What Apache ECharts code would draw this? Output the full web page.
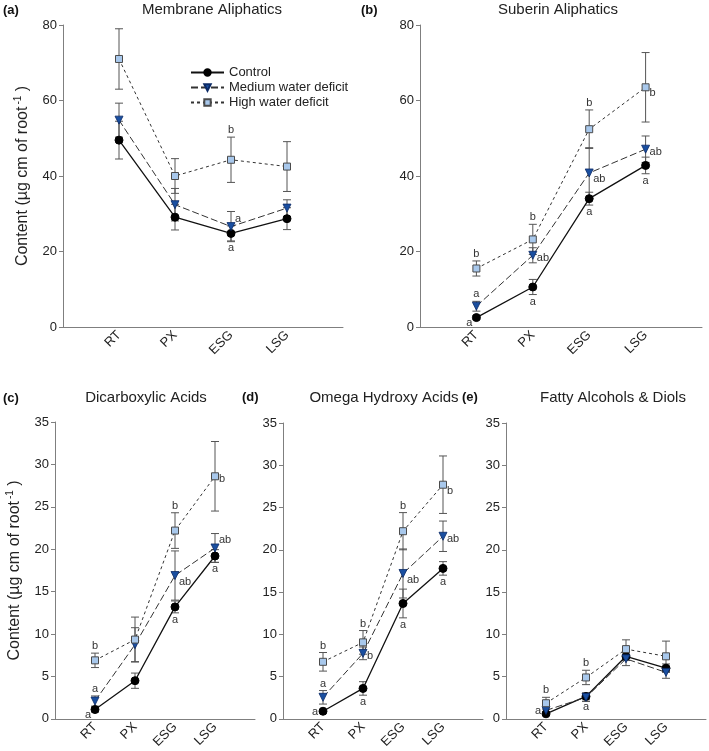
<!DOCTYPE html>
<html>
<head>
<meta charset="utf-8">
<script src="https://cdn.jsdelivr.net/npm/echarts@6/dist/echarts.min.js"></script>
<style>
  html, body { margin: 0; padding: 0; background: #fff; }
  #chart { width: 709px; height: 751px; }
</style>
</head>
<body>
<div id="chart"></div>
<script>
// x slots: empty slot at each end so the 4 groups sit one step in from the axis ends
const xSlots = ['', 'RT', 'PX', 'ESG', 'LSG', ''];
const seriesNames = ['Control', 'Medium water deficit', 'High water deficit'];

// (a) Membrane Aliphatics
const memCtl = [49.5, 29.1, 24.8, 28.7];
const memCtlErr = [5.0, 3.4, 2.0, 2.9];
const memMed = [54.8, 32.4, 26.6, 31.5];
const memMedErr = [4.5, 4.3, 4.0, 2.2];
const memHigh = [71.0, 40.0, 44.3, 42.5];
const memHighErr = [8.0, 4.6, 6.0, 6.6];
const memCtlLet = ['', '', 'a', ''];
const memMedLet = ['', '', 'a', ''];
const memHighLet = ['', '', 'b', ''];

// (b) Suberin Aliphatics
const subCtl = [2.5, 10.6, 34.0, 42.8];
const subCtlErr = [0.5, 2.0, 1.7, 2.2];
const subMed = [5.5, 19.0, 40.8, 47.1];
const subMedErr = [1.3, 2.0, 6.7, 3.5];
const subHigh = [15.5, 23.2, 52.4, 63.5];
const subHighErr = [2.0, 4.0, 5.1, 9.2];
const subCtlLet = ['a', 'a', 'a', 'a'];
const subMedLet = ['a', 'ab', 'ab', 'ab'];
const subHighLet = ['b', 'b', 'b', 'b'];

// (c) Dicarboxylic Acids
const dicCtl = [1.1, 4.5, 13.2, 19.2];
const dicCtlErr = [0.3, 0.9, 0.7, 0.75];
const dicMed = [2.1, 8.75, 16.9, 20.15];
const dicMedErr = [0.6, 2.0, 2.9, 1.7];
const dicHigh = [6.9, 9.35, 22.2, 28.6];
const dicHighErr = [0.85, 2.65, 2.1, 4.1];
const dicCtlLet = ['a', '', 'a', 'a'];
const dicMedLet = ['a', '', 'ab', 'ab'];
const dicHighLet = ['b', '', 'b', 'b'];

// (d) Omega Hydroxy Acids
const omeCtl = [0.9, 3.6, 13.65, 17.8];
const omeCtlErr = [0.2, 0.8, 1.7, 0.8];
const omeMed = [2.55, 7.75, 17.2, 21.6];
const omeMedErr = [0.8, 0.75, 2.9, 1.8];
const omeHigh = [6.75, 9.05, 22.2, 27.7];
const omeHighErr = [1.1, 1.4, 2.2, 3.4];
const omeCtlLet = ['a', 'a', 'a', 'a'];
const omeMedLet = ['a', 'b', 'ab', 'ab'];
const omeHighLet = ['b', 'b', 'b', 'b'];

// (e) Fatty Alcohols & Diols
const fatCtl = [0.6, 2.65, 7.4, 6.0];
const fatCtlErr = [0.2, 0.4, 0.5, 0.5];
const fatMed = [1.0, 2.55, 7.1, 5.5];
const fatMedErr = [0.3, 0.5, 0.8, 0.7];
const fatHigh = [1.85, 4.9, 8.25, 7.4];
const fatHighErr = [0.7, 0.85, 1.1, 1.8];
const fatCtlLet = ['', 'a', '', ''];
const fatMedLet = ['a', '', '', ''];
const fatHighLet = ['b', 'b', '', ''];

const FONT = '"Liberation Sans", Arial, Helvetica, sans-serif';

// layout of each panel; "place" says where each letter sits relative to its point
const panels = [
  { tag: '(a)', title: 'Membrane Aliphatics', tagX: 3, tagY: 10, titleX: 212, titleY: 10,
    grid: { left: 63, top: 25, width: 280, height: 302 }, max: 80, interval: 20, yName: true,
    vals: [memCtl, memMed, memHigh], errs: [memCtlErr, memMedErr, memHighErr],
    lets: [memCtlLet, memMedLet, memHighLet],
    place: [['', '', 'b', ''], ['', '', 'ra', ''], ['', '', 't', '']] },
  { tag: '(b)', title: 'Suberin Aliphatics', tagX: 361, tagY: 10, titleX: 558, titleY: 10,
    grid: { left: 420, top: 25, width: 282, height: 302 }, max: 80, interval: 20,
    vals: [subCtl, subMed, subHigh], errs: [subCtlErr, subMedErr, subHighErr],
    lets: [subCtlLet, subMedLet, subHighLet],
    place: [['lb', 'b', 'b', 'b'], ['t', 'r', 'rb', 'r'], ['t', 't', 't', 'rb']] },
  { tag: '(c)', title: 'Dicarboxylic Acids', tagX: 3, tagY: 398, titleX: 146, titleY: 398,
    grid: { left: 55, top: 422, width: 200, height: 297 }, max: 35, interval: 5, yName: true,
    vals: [dicCtl, dicMed, dicHigh], errs: [dicCtlErr, dicMedErr, dicHighErr],
    lets: [dicCtlLet, dicMedLet, dicHighLet],
    place: [['lb', '', 'b', 'b'], ['t', '', 'rb', 'ra'], ['t', '', 't', 'r']] },
  { tag: '(d)', title: 'Omega Hydroxy Acids', tagX: 242, tagY: 397, titleX: 384, titleY: 398,
    grid: { left: 283, top: 423, width: 200, height: 297 }, max: 35, interval: 5,
    vals: [omeCtl, omeMed, omeHigh], errs: [omeCtlErr, omeMedErr, omeHighErr],
    lets: [omeCtlLet, omeMedLet, omeHighLet],
    place: [['l', 'b', 'b', 'b'], ['t', 'r', 'rb', 'r'], ['t', 't', 't', 'rb']] },
  { tag: '(e)', title: 'Fatty Alcohols & Diols', tagX: 462, tagY: 397, titleX: 613, titleY: 398,
    grid: { left: 506, top: 423, width: 200, height: 297 }, max: 35, interval: 5,
    vals: [fatCtl, fatMed, fatHigh], errs: [fatCtlErr, fatMedErr, fatHighErr],
    lets: [fatCtlLet, fatMedLet, fatHighLet],
    place: [['', 'b', '', ''], ['l', '', '', ''], ['t', 't', '', '']] }
];

const lineStyles = [
  { color: '#111', width: 1.3, type: 'solid' },
  { color: '#333', width: 1, type: [7, 3] },
  { color: '#333', width: 1, type: [3, 3] }
];
const symbols = [
  { symbol: 'circle', size: 8, rotate: 0, item: { color: '#000', borderColor: '#000', borderWidth: 1 } },
  { symbol: 'triangle', size: 8, rotate: 180, item: { color: '#1a4fa0', borderColor: '#0b2a66', borderWidth: 0.8 } },
  { symbol: 'rect', size: 7, rotate: 0, item: { color: '#a8c8ec', borderColor: '#4a4a4a', borderWidth: 1 } }
];

function errRender(params, api) {
  const i = api.value(0), v = api.value(1), e = api.value(2);
  const top = api.coord([i, v + e]);
  const bot = api.coord([i, v - e]);
  const w = 4;
  const st = { stroke: '#555', lineWidth: 1 };
  return {
    type: 'group',
    children: [
      { type: 'line', shape: { x1: top[0], y1: top[1], x2: bot[0], y2: bot[1] }, style: st },
      { type: 'line', shape: { x1: top[0] - w, y1: top[1], x2: top[0] + w, y2: top[1] }, style: st },
      { type: 'line', shape: { x1: bot[0] - w, y1: bot[1], x2: bot[0] + w, y2: bot[1] }, style: st }
    ]
  };
}

function letterRender(texts, places) {
  return function (params, api) {
    const i = api.value(0), v = api.value(1), e = api.value(2);
    const p = api.coord([i, v]);
    const top = api.coord([i, v + e]);
    const bot = api.coord([i, v - e]);
    const pl = places[params.dataIndex];
    let x = p[0], y = p[1], align = 'center';
    if (pl === 't') { y = top[1] - 7; }
    else if (pl === 'b') { y = bot[1] + 7; }
    else if (pl === 'r') { x = p[0] + 4; y = p[1] + 3; align = 'left'; }
    else if (pl === 'rb') { x = p[0] + 4; y = p[1] + 6; align = 'left'; }
    else if (pl === 'ra') { x = p[0] + 4; y = p[1] - 8; align = 'left'; }
    else if (pl === 'lb') { x = p[0] - 4; y = p[1] + 5; align = 'right'; }
    else if (pl === 'l') { x = p[0] - 5; y = p[1] + 1; align = 'right'; }
    return {
      type: 'text', x: x, y: y,
      style: { text: texts[params.dataIndex], textAlign: align, textVerticalAlign: 'middle',
        font: '11px ' + FONT, fill: '#333' }
    };
  };
}

const grids = [], xAxes = [], yAxes = [], series = [], graphics = [];

panels.forEach(function (pn, k) {
  grids.push(Object.assign({ containLabel: false }, pn.grid));
  xAxes.push({
    type: 'category', gridIndex: k, data: xSlots, boundaryGap: false,
    axisLine: { lineStyle: { color: '#7f7f7f', width: 1 } },
    axisTick: { show: false },
    axisLabel: { rotate: 45, interval: 0, margin: 6, fontSize: 13, color: '#222', fontFamily: FONT },
    splitLine: { show: false }
  });
  const ya = {
    type: 'value', gridIndex: k, min: 0, max: pn.max, interval: pn.interval,
    axisLine: { show: true, lineStyle: { color: '#7f7f7f', width: 1 } },
    axisTick: { show: true, length: 4, lineStyle: { color: '#7f7f7f' } },
    axisLabel: { margin: 6, fontSize: 13, color: '#222', fontFamily: FONT },
    splitLine: { show: false }
  };
  if (pn.yName) {
    ya.name = 'Content (µg cm of root{s|-1}{n| )}';
    ya.nameLocation = 'middle';
    ya.nameRotate = 90;
    ya.nameGap = 30;
    ya.nameTextStyle = {
      fontSize: 16, color: '#222', fontFamily: FONT,
      rich: {
        s: { fontSize: 10, verticalAlign: 'top', color: '#222', fontFamily: FONT, padding: [0, 0, 10, 2] },
        n: { fontSize: 16, color: '#222', fontFamily: FONT }
      }
    };
  }
  yAxes.push(ya);

  const letData = [], letTexts = [], letPlaces = [];
  for (let s = 0; s < 3; s++) {
    const vals = pn.vals[s], errs = pn.errs[s];
    // error bars
    series.push({
      type: 'custom', xAxisIndex: k, yAxisIndex: k, z: 1, silent: true,
      renderItem: errRender,
      data: vals.map(function (v, c) { return [c + 1, v, errs[c]]; })
    });
    series.push({
      name: seriesNames[s], type: 'line', xAxisIndex: k, yAxisIndex: k, z: 3,
      data: vals.map(function (v, c) { return [c + 1, v]; }),
      symbol: symbols[s].symbol, symbolSize: symbols[s].size, symbolRotate: symbols[s].rotate,
      itemStyle: symbols[s].item, lineStyle: lineStyles[s],
      showAllSymbol: true, animation: false
    });
    pn.lets[s].forEach(function (t, c) {
      if (t) {
        letData.push([c + 1, vals[c], errs[c]]);
        letTexts.push(t);
        letPlaces.push(pn.place[s][c]);
      }
    });
  }
  series.push({
    type: 'custom', xAxisIndex: k, yAxisIndex: k, z: 4, silent: true,
    renderItem: letterRender(letTexts, letPlaces), data: letData
  });

  graphics.push({
    type: 'text', x: pn.tagX, y: pn.tagY,
    style: { text: pn.tag, font: 'bold 13px ' + FONT, fill: '#111', textVerticalAlign: 'middle' }
  });
  graphics.push({
    type: 'text', x: pn.titleX, y: pn.titleY,
    style: { text: pn.title, font: '15px ' + FONT, fill: '#222', textAlign: 'center', textVerticalAlign: 'middle' }
  });
});

const chart = echarts.init(document.getElementById('chart'), null, { renderer: 'canvas' });
chart.setOption({
  animation: false,
  backgroundColor: '#fff',
  grid: grids,
  xAxis: xAxes,
  yAxis: yAxes,
  legend: {
    data: seriesNames, orient: 'vertical', left: 190, top: 66, padding: 0,
    itemWidth: 33, itemHeight: 8, itemGap: 2,
    textStyle: { fontSize: 13, color: '#222', fontFamily: FONT }
  },
  graphic: graphics,
  series: series
});
</script>
</body>
</html>
